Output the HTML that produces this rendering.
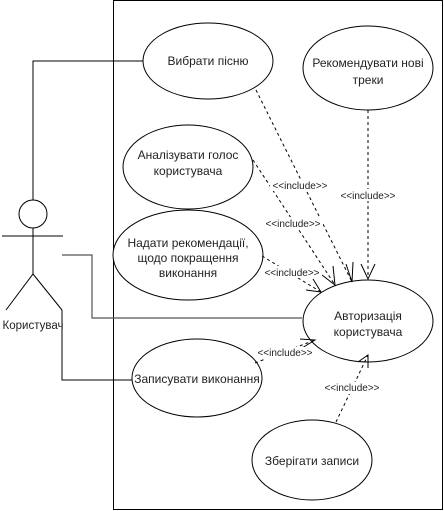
<!DOCTYPE html>
<html><head><meta charset="utf-8"><style>
body{margin:0;background:#fff;}
svg{display:block;font-family:"Liberation Sans",sans-serif;}
</style></head><body>
<svg width="444" height="511" viewBox="0 0 444 511" xmlns="http://www.w3.org/2000/svg">
<rect width="444" height="511" fill="#fff"/>
<rect x="113.5" y="0.5" width="329" height="509" fill="none" stroke="#000"/>
<polyline points="143,61 33,61 33,200" fill="none" stroke="#000"/>
<polyline points="62,255 92,255 92,318 302,318" fill="none" stroke="#555" stroke-width="1.2"/>
<polyline points="62,310 62,380 133,380" fill="none" stroke="#000"/>
<circle cx="33" cy="214" r="14" fill="#fff" stroke="#000"/>
<line x1="2" y1="236" x2="63" y2="236" stroke="#000"/>
<line x1="33" y1="228" x2="33" y2="274" stroke="#000"/>
<polyline points="6,310 33,274 62,310" fill="none" stroke="#000"/>
<text x="33" y="329" font-size="11.5" text-anchor="middle" fill="#222">Користувач</text>
<g fill="#fff" stroke="#000">
<ellipse cx="208" cy="61" rx="65" ry="38"/>
<ellipse cx="368" cy="68" rx="65" ry="42"/>
<ellipse cx="188" cy="167" rx="65" ry="42"/>
<ellipse cx="188" cy="255" rx="75" ry="45"/>
<ellipse cx="368" cy="321" rx="65" ry="41"/>
<ellipse cx="197" cy="378" rx="65" ry="39"/>
<ellipse cx="312" cy="460" rx="60" ry="40"/>
</g>
<g font-size="12" text-anchor="middle" fill="#222">
<text x="208" y="65">Вибрати пісню</text>
<text x="368" y="67">Рекомендувати нові</text><text x="368" y="84">треки</text>
<text x="188" y="159">Аналізувати голос</text><text x="188" y="175">користувача</text>
<text x="188" y="247">Надати рекомендації,</text><text x="188" y="262">щодо покращення</text><text x="188" y="277">виконання</text>
<text x="368" y="320">Авторизація</text><text x="368" y="336">користувача</text>
<text x="197" y="383">Записувати виконання</text>
<text x="312" y="465">Зберігати записи</text>
</g>
<g stroke="#000" fill="none" stroke-dasharray="3,3">
<line x1="256" y1="90" x2="352" y2="282"/>
<line x1="368" y1="110" x2="368" y2="279"/>
<line x1="253" y1="160" x2="335" y2="285"/>
<line x1="262" y1="256" x2="321" y2="292"/>
<line x1="255" y1="363" x2="315" y2="340"/>
<line x1="336" y1="422" x2="368" y2="355"/>
</g>
<g stroke="#000" fill="none">
<polyline points="346,264 352,282 353,262"/>
<polyline points="361,264 368,279 375,264"/>
<polyline points="322,275 335,285 333,266"/>
<polyline points="306,290 321,292 313,279"/>
<polyline points="300,339 315,340 302,348"/>
<polyline points="358,362 368,355 368,368"/>
</g>
<g font-size="10" text-anchor="middle" fill="#222">
<rect x="270" y="179" width="60" height="12" fill="#fff"/>
<text x="300" y="189">&lt;&lt;include&gt;&gt;</text>
<rect x="338" y="189" width="60" height="12" fill="#fff"/>
<text x="368" y="199">&lt;&lt;include&gt;&gt;</text>
<rect x="263" y="217" width="60" height="12" fill="#fff"/>
<text x="293" y="227">&lt;&lt;include&gt;&gt;</text>
<rect x="262" y="266" width="60" height="12" fill="#fff"/>
<text x="292" y="276">&lt;&lt;include&gt;&gt;</text>
<rect x="255" y="347" width="60" height="12" fill="#fff"/>
<text x="285" y="356">&lt;&lt;include&gt;&gt;</text>
<rect x="322" y="382" width="60" height="12" fill="#fff"/>
<text x="352" y="391">&lt;&lt;include&gt;&gt;</text>
</g>
</svg>
</body></html>
